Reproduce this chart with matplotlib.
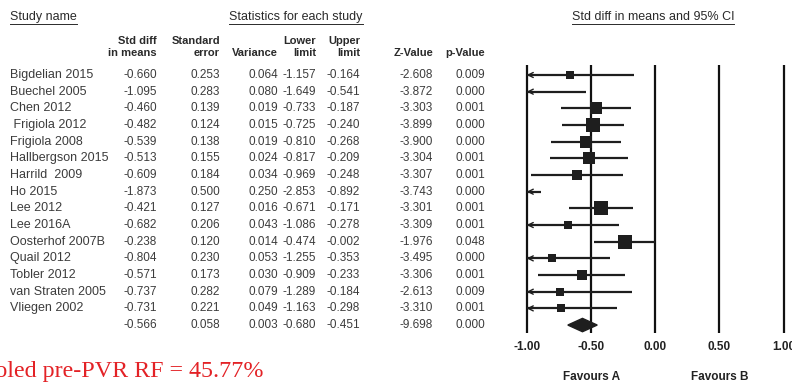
import numpy as np
import matplotlib
matplotlib.use("Agg")
import matplotlib.pyplot as plt
from matplotlib.transforms import blended_transform_factory
from matplotlib.lines import Line2D

plt.rcParams['font.family'] = ['Liberation Sans', 'DejaVu Sans']

studies = ["Bigdelian 2015", "Buechel 2005", "Chen 2012", " Frigiola 2012", "Frigiola 2008",
           "Hallbergson 2015", "Harrild  2009", "Ho 2015", "Lee 2012", "Lee 2016A",
           "Oosterhof 2007B", "Quail 2012", "Tobler 2012", "van Straten 2005", "Vliegen 2002"]
smd = [-0.660, -1.095, -0.460, -0.482, -0.539, -0.513, -0.609, -1.873, -0.421, -0.682,
       -0.238, -0.804, -0.571, -0.737, -0.731]
se = [0.253, 0.283, 0.139, 0.124, 0.138, 0.155, 0.184, 0.500, 0.127, 0.206,
      0.120, 0.230, 0.173, 0.282, 0.221]
var = [0.064, 0.080, 0.019, 0.015, 0.019, 0.024, 0.034, 0.250, 0.016, 0.043,
       0.014, 0.053, 0.030, 0.079, 0.049]
lower = [-1.157, -1.649, -0.733, -0.725, -0.810, -0.817, -0.969, -2.853, -0.671, -1.086,
         -0.474, -1.255, -0.909, -1.289, -1.163]
upper = [-0.164, -0.541, -0.187, -0.240, -0.268, -0.209, -0.248, -0.892, -0.171, -0.278,
         -0.002, -0.353, -0.233, -0.184, -0.298]
zval = [-2.608, -3.872, -3.303, -3.899, -3.900, -3.304, -3.307, -3.743, -3.301, -3.309,
        -1.976, -3.495, -3.306, -2.613, -3.310]
pval = [0.009, 0.000, 0.001, 0.000, 0.000, 0.001, 0.001, 0.000, 0.001, 0.001,
        0.048, 0.000, 0.001, 0.009, 0.001]
pooled = dict(smd=-0.566, se=0.058, var=0.003, lower=-0.680, upper=-0.451, z=-9.698, p=0.000)
xticks = [-1.0, -0.5, 0.0, 0.5, 1.0]

W, H = 792, 384
fig = plt.figure(figsize=(W / 100, H / 100), dpi=100)

# forest panel: x=-1 at px 526.7, 128.5 px per unit; rows from y px 65 to 333
x0, x1 = -1.07, 1.065
left_px = 526.7 + (x0 + 1) * 128.5
width_px = (x1 - x0) * 128.5
top_px, bot_px = 65, 333
ax = fig.add_axes([left_px / W, 1 - bot_px / H, width_px / W, (bot_px - top_px) / H])
row_h = 16.67
ax.set_xlim(x0, x1)
ax.set_ylim((bot_px - 75) / row_h, (top_px - 75) / row_h)
for s in ax.spines.values():
    s.set_visible(False)
ax.set_yticks([])
ax.set_xticks(xticks)
ax.set_xticklabels(["%.2f" % t for t in xticks], fontweight='bold', fontsize=8.5, color='#222222')
ax.tick_params(axis='x', length=0, pad=6)
for t in xticks:
    ax.axvline(t, color='#111111', lw=1.6, zorder=1)

dark = '#1e1e1e'
for i in range(len(studies)):
    lo, hi, m = lower[i], upper[i], smd[i]
    a, b = max(lo, -1.0), min(hi, 1.0)
    ax.plot([a, b], [i, i], color=dark, lw=1.6, zorder=2, solid_capstyle='butt')
    if lo < -1.0:
        ax.annotate('', xy=(-1.0, i), xytext=(-0.95, i),
                    arrowprops=dict(arrowstyle='->', color=dark, lw=1.0,
                                    shrinkA=0, shrinkB=0, mutation_scale=9))
    if -1.0 <= m <= 1.0:
        w = 1.0 / var[i]
        side_pt = (1.44 * np.sqrt(w) + 1.9) * 0.72
        ax.scatter([m], [i], marker='s', s=side_pt ** 2, color=dark, zorder=3, linewidths=0)

ys = len(studies)
dx = [pooled['lower'], pooled['smd'], pooled['upper'], pooled['smd']]
dy = [ys, ys - 0.4, ys, ys + 0.4]
ax.fill(dx, dy, color=dark, zorder=3)

# table text
tr = blended_transform_factory(fig.transFigure, ax.transData)
gray = '#3c3c3c'
fs_name, fs_num = 9, 8.5
cols_r = [157, 220, 278, 316, 360, 433, 485]
for i, name in enumerate(studies):
    ax.text(10 / W, i, name, transform=tr, ha='left', va='center', fontsize=fs_name, color=gray)
    vals = ["%.3f" % smd[i], "%.3f" % se[i], "%.3f" % var[i], "%.3f" % lower[i],
            "%.3f" % upper[i], "%.3f" % zval[i], "%.3f" % pval[i]]
    for xr, v in zip(cols_r, vals):
        ax.text(xr / W, i, v, transform=tr, ha='right', va='center', fontsize=fs_num, color=gray)
pvals = ["%.3f" % pooled[k] for k in ['smd', 'se', 'var', 'lower', 'upper', 'z', 'p']]
for xr, v in zip(cols_r, pvals):
    ax.text(xr / W, ys, v, transform=tr, ha='right', va='center', fontsize=fs_num, color=gray)

# column headers
heads = ["Std diff\nin means", "Standard\nerror", "Variance", "Lower\nlimit",
         "Upper\nlimit", "Z-Value", "p-Value"]
for xr, h in zip(cols_r, heads):
    fig.text(xr / W, 1 - 56 / H, h, ha='right', va='baseline', fontsize=8,
             fontweight='bold', color='#2a2a2a', linespacing=1.25)

under = []
under.append(fig.text(10 / W, 1 - 17 / H, "Study name", ha='left', va='center',
                      fontsize=9, color='#2a2a2a'))
under.append(fig.text(296 / W, 1 - 17 / H, "Statistics for each study", ha='center',
                      va='center', fontsize=9, color='#2a2a2a'))
under.append(fig.text(653 / W, 1 - 17 / H, "Std diff in means and 95% CI", ha='center',
                      va='center', fontsize=9, color='#2a2a2a'))

fig.text(592 / W, 1 - 377 / H, "Favours A", ha='center', va='center', fontsize=8.5,
         fontweight='bold', color='#222222')
fig.text(720 / W, 1 - 377 / H, "Favours B", ha='center', va='center', fontsize=8.5,
         fontweight='bold', color='#222222')

fig.text(263 / W, 1 - 377 / H, "Pooled pre-PVR RF = 45.77%", ha='right', va='baseline',
         fontsize=17.3, family='Liberation Serif', color='#e32226')

# underline the group titles
fig.canvas.draw()
r = fig.canvas.get_renderer()
for t in under:
    bb = t.get_window_extent(r)
    yline = (bb.y0 - 1) / H
    fig.add_artist(Line2D([bb.x0 / W, bb.x1 / W], [yline, yline], color='#2a2a2a', lw=0.7))

fig.savefig("out.png", dpi=100)
